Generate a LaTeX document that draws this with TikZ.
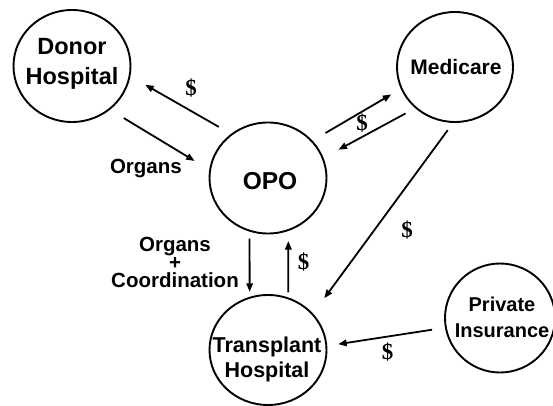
\documentclass[tikz,border=0pt]{standalone}
\usepackage{fontspec}
\setmainfont{Liberation Sans}
\newfontfamily\moneyfont{Liberation Serif}
\usetikzlibrary{arrows.meta,shapes.geometric}

\tikzset{
  party/.style={ellipse, draw, line width=1.9pt, inner sep=0pt,
                minimum width=117pt, minimum height=111pt},
  partyname/.style={align=center, inner sep=0pt},
  flow/.style={-{Triangle[length=8.5pt,width=6.5pt]}, line width=1.8pt},
  money/.style={font=\moneyfont\bfseries\fontsize{23}{23}\selectfont, inner sep=0pt},
  flowtext/.style={font=\bfseries\fontsize{20.5}{18}\selectfont, align=center, inner sep=0pt},
}

\begin{document}
\begin{tikzpicture}[x=1pt, y=-1pt]
  \useasboundingbox (0,0) rectangle (553,406);

  % parties
  \node[party, minimum height=112pt] (donor) at (72,66) {};
  \node[party, minimum width=116pt, minimum height=110pt] (medicare) at (455,67) {};
  \node[party] (opo) at (268,178) {};
  \node[party, minimum height=110pt] (trans) at (268,350) {};
  \node[party, minimum width=110pt, minimum height=109pt] (private) at (500,318) {};

  % party names
  \node[partyname, font=\bfseries\fontsize{23.5}{30}\selectfont] (donorname) at (72,64) {Donor\\Hospital};
  \node[partyname, font=\bfseries\fontsize{21}{24}\selectfont] (medicarename) at (456,66.5) {Medicare};
  \node[partyname, font=\bfseries\fontsize{24.5}{28}\selectfont] (oponame) at (270,181) {OPO};
  \node[partyname, font=\bfseries\fontsize{21.5}{25}\selectfont] (transname) at (267,359.5) {Transplant\\Hospital};
  \node[partyname, font=\bfseries\fontsize{20}{26}\selectfont] (privatename) at (502,317) {Private\\Insurance};

  % flows between parties
  \draw[flow, shorten <=14pt, shorten >=17pt] (opo.130) -- (donor.-10);
  \draw[flow, shorten <=16pt, shorten >=17pt] (donor.-49) -- (opo.172);
  \draw[flow, shorten <=15pt, shorten >=11pt] (opo.40) -- (medicare.-158);
  \draw[flow, shorten <=11pt, shorten >=17pt] (medicare.-134) -- (opo.20);
  \draw[flow, shorten <=9pt, shorten >=19pt] (medicare.-92) -- (trans.39);
  \draw[flow, shorten <=7pt, shorten >=5pt] (opo.-109.5) -- (trans.109.5);
  \draw[flow, shorten <=5pt, shorten >=10pt] (trans.69.5) -- (opo.-69.5);
  \draw[flow, shorten <=13pt, shorten >=11pt] (private.-170) -- (trans.4);

  % flow labels
  \node[money] (paydonor) at (191,88) {\$};
  \node[money] (paymedicare) at (362,123) {\$};
  \node[money] (paytrans) at (407,230) {\$};
  \node[money] (payopo) at (303.5,262) {\$};
  \node[money] (payprivate) at (387.5,352) {\$};
  \node[flowtext, anchor=base east] (organs) at (182,173) {Organs};
  \node[flowtext] (organscoord) at (175,262) {Organs\\+\\Coordination};
\end{tikzpicture}
\end{document}
